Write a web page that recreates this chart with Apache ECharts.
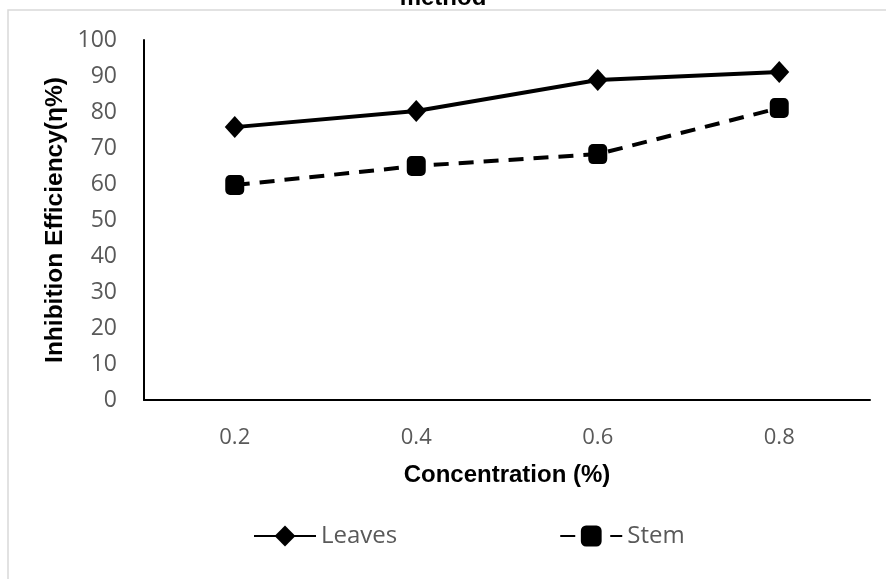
<!DOCTYPE html>
<html>
<head>
<meta charset="utf-8">
<script src="https://cdn.jsdelivr.net/npm/echarts@6/dist/echarts.min.js"></script>
<style>
  html, body { margin: 0; padding: 0; background: #fff; }
  #chart { width: 886px; height: 579px; }
</style>
</head>
<body>
<div id="chart"></div>
<script>
  // concentration categories and inhibition efficiency values
  var concentrations = ['0.2', '0.4', '0.6', '0.8'];
  var leaves = [75.8, 80.3, 88.9, 91.1];
  var stem = [59.7, 65.0, 68.3, 81.1];
  var yTicks = { min: 0, max: 100, step: 10 };

  var chart = echarts.init(document.getElementById('chart'));

  var option = {
    animation: false,
    backgroundColor: '#fff',
    graphic: [{
      type: 'rect',
      shape: { x: 8, y: 10, width: 900, height: 600 },
      style: { fill: 'none', stroke: '#d9d9d9', lineWidth: 1.5 },
      silent: true
    }],
    title: {
      text: 'method',
      left: 'center',
      top: -19,
      textStyle: { fontFamily: 'Liberation Sans', fontWeight: 'bold', fontSize: 24, color: '#000' }
    },
    grid: { left: 144, right: 16, top: 40, bottom: 179 },
    legend: {
      bottom: 26,
      left: 248,
      itemWidth: 62,
      itemHeight: 26,
      itemGap: 162,
      textStyle: { fontFamily: 'Open Sans', fontSize: 24, color: '#595959' },
      data: ['Leaves', 'Stem']
    },
    xAxis: {
      type: 'category',
      data: concentrations,
      boundaryGap: true,
      name: 'Concentration (%)',
      nameLocation: 'middle',
      nameGap: 63,
      nameMoveOverlap: false,
      nameTextStyle: { fontFamily: 'Liberation Sans', fontWeight: 'bold', fontSize: 24, color: '#000' },
      axisLine: { lineStyle: { color: '#000', width: 2 } },
      axisTick: { show: false },
      axisLabel: { margin: 27, fontFamily: 'Open Sans', fontSize: 22, color: '#595959' },
      splitLine: { show: false }
    },
    yAxis: {
      type: 'value',
      min: yTicks.min,
      max: yTicks.max,
      interval: yTicks.step,
      name: 'Inhibition Efficiency(\u03b7%)',
      nameLocation: 'middle',
      nameGap: 76,
      nameMoveOverlap: false,
      nameTextStyle: { fontFamily: 'Liberation Sans', fontWeight: 'bold', fontSize: 24.5, color: '#000' },
      axisLine: { show: true, lineStyle: { color: '#000', width: 2 } },
      axisTick: { show: false },
      axisLabel: { margin: 27, fontFamily: 'Open Sans', fontSize: 23, color: '#595959' },
      splitLine: { show: false }
    },
    series: [
      {
        name: 'Leaves',
        type: 'line',
        data: leaves,
        symbol: 'diamond',
        symbolSize: [20, 22],
        lineStyle: { color: '#000', width: 4, type: 'solid' },
        itemStyle: { color: '#000' }
      },
      {
        name: 'Stem',
        type: 'line',
        data: stem,
        symbol: 'roundRect',
        symbolSize: [19, 20],
        lineStyle: { color: '#000', width: 4, type: [15, 10] },
        itemStyle: { color: '#000' }
      }
    ]
  };

  chart.setOption(option);
</script>
</body>
</html>
